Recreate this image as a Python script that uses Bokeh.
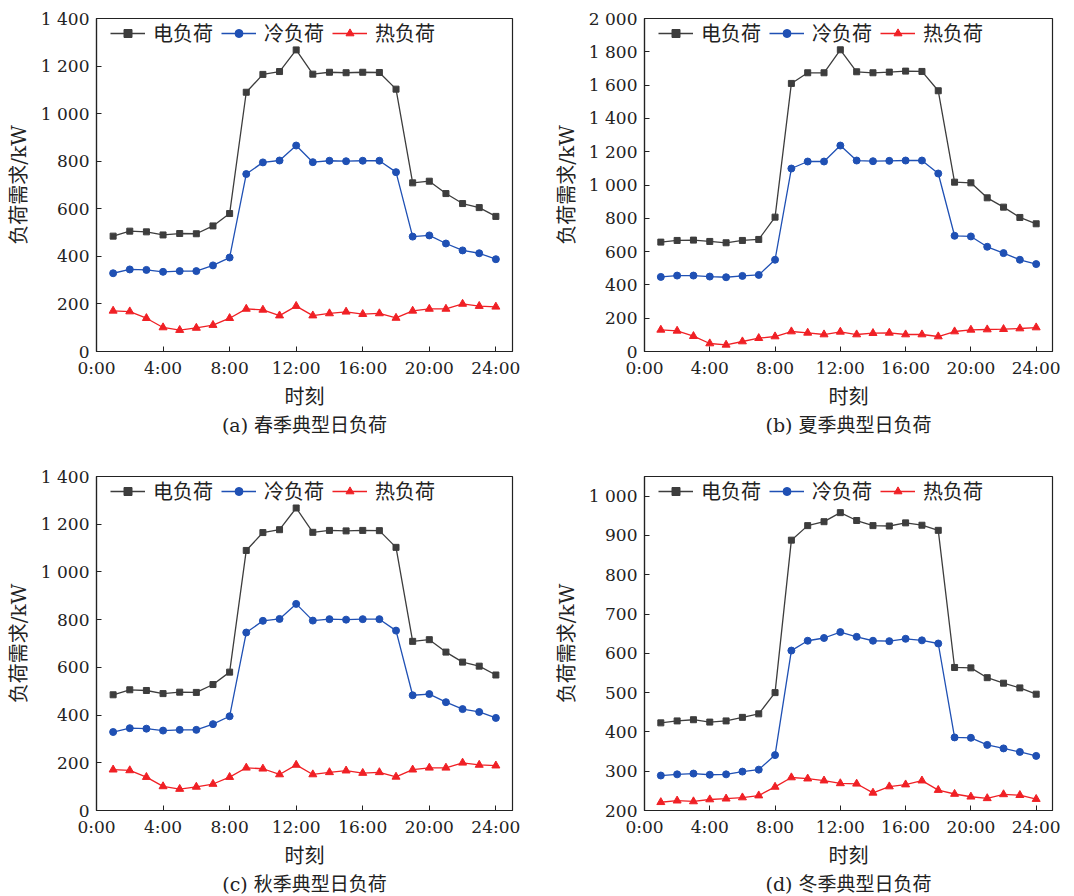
from bokeh.plotting import figure
from bokeh.layouts import column, row
from bokeh.models import FixedTicker, Range1d, Legend, LegendItem
from bokeh.embed import file_html
from bokeh.resources import INLINE

hours = list(range(1, 25))

# (a) spring
spring_elec = [485, 506, 503, 490, 496, 495, 528, 580, 1090, 1165, 1177, 1268,
               1166, 1174, 1172, 1174, 1173, 1103, 709, 716, 664, 622, 605, 568]
spring_cool = [329, 345, 343, 335, 338, 338, 362, 395, 746, 795, 803, 866,
               796, 802, 800, 802, 802, 754, 483, 488, 454, 425, 413, 388]
spring_heat = [171, 168, 140, 101, 90, 99, 111, 140, 179, 175, 151, 191,
               151, 160, 167, 157, 160, 141, 171, 179, 179, 200, 191, 188]

# (b) summer
summer_elec = [657, 667, 669, 661, 653, 667, 673, 807, 1610, 1674, 1674, 1812,
               1680, 1674, 1678, 1684, 1682, 1566, 1017, 1013, 923, 867, 805, 767]
summer_cool = [448, 456, 456, 450, 446, 454, 460, 551, 1099, 1141, 1141, 1237,
               1147, 1143, 1145, 1147, 1147, 1069, 695, 691, 629, 591, 551, 525]
summer_heat = [130, 124, 92, 48, 40, 60, 80, 90, 120, 112, 102, 118,
               102, 110, 112, 102, 102, 90, 120, 130, 132, 134, 138, 144]

# (c) autumn
autumn_elec = [485, 506, 503, 490, 496, 495, 528, 580, 1090, 1165, 1177, 1268,
               1166, 1174, 1172, 1174, 1173, 1103, 709, 716, 664, 622, 605, 568]
autumn_cool = [329, 345, 343, 335, 338, 338, 362, 395, 746, 795, 803, 866,
               796, 802, 800, 802, 802, 754, 483, 488, 454, 425, 413, 388]
autumn_heat = [171, 168, 140, 101, 90, 99, 111, 140, 179, 175, 151, 191,
               151, 160, 167, 157, 160, 141, 171, 179, 179, 200, 191, 188]

# (d) winter
winter_elec = [423, 428, 431, 425, 428, 437, 446, 500, 888, 925, 935, 958,
               938, 925, 924, 932, 926, 913, 564, 563, 538, 524, 512, 496]
winter_cool = [289, 292, 294, 291, 292, 299, 304, 341, 607, 632, 639, 654,
               642, 632, 631, 637, 633, 625, 386, 385, 367, 358, 349, 339]
winter_heat = [221, 225, 223, 228, 230, 233, 238, 260, 284, 281, 276, 269,
               268, 245, 261, 266, 276, 252, 242, 235, 231, 241, 239, 229]

series_names = ["电负荷", "冷负荷", "热负荷"]
x_ticks = [0, 4, 8, 12, 16, 20, 24]
x_tick_labels = ["0:00", "4:00", "8:00", "12:00", "16:00", "20:00", "24:00"]
x_label = "时刻"
y_label = "负荷需求/kW"
captions = ["(a) 春季典型日负荷", "(b) 夏季典型日负荷", "(c) 秋季典型日负荷", "(d) 冬季典型日负荷"]

FONT = "DejaVu Serif, Noto Sans CJK SC"
C_ELEC = "#3d3d3d"
C_COOL = "#1f50b4"
C_HEAT = "#f02025"
TXT = "#222222"


def fmt(v):
    return f"{int(v):,}".replace(",", " ")


def make_panel(caption, elec, cool, heat, y0, y1, yticks,
               bl, fw, br, bt, fh, bb):
    p = figure(frame_width=fw, frame_height=fh,
               min_border_left=bl, min_border_right=br,
               min_border_top=bt, min_border_bottom=bb,
               x_range=Range1d(0, 25), y_range=Range1d(y0, y1),
               output_backend="svg", toolbar_location=None,
               title=caption, title_location="below")
    p.title.align = "center"
    p.title.text_font = FONT
    p.title.text_font_size = "19px"
    p.title.text_font_style = "normal"
    p.title.text_color = TXT
    p.title.standoff = 0

    p.grid.visible = False
    p.outline_line_color = TXT
    p.outline_line_width = 1.2
    p.background_fill_color = "white"
    p.border_fill_color = "white"

    for ax in (p.xaxis[0], p.yaxis[0]):
        ax.axis_line_color = TXT
        ax.axis_line_width = 1.2
        ax.major_tick_in = 5
        ax.major_tick_out = 0
        ax.minor_tick_line_color = None
        ax.major_tick_line_color = TXT
        ax.major_label_text_font = FONT
        ax.major_label_text_font_size = "17px"
        ax.major_label_text_color = TXT
        ax.axis_label_text_font = FONT
        ax.axis_label_text_font_size = "20px"
        ax.axis_label_text_font_style = "normal"
        ax.axis_label_text_color = TXT

    p.xaxis.ticker = FixedTicker(ticks=x_ticks)
    p.xaxis.major_label_overrides = {t: l for t, l in zip(x_ticks, x_tick_labels)}
    p.xaxis.axis_label = x_label
    p.xaxis.major_label_standoff = 6
    p.xaxis.axis_label_standoff = 4

    p.yaxis.ticker = FixedTicker(ticks=yticks)
    p.yaxis.major_label_overrides = {t: fmt(t) for t in yticks}
    p.yaxis.axis_label = y_label
    p.yaxis.major_label_standoff = 7
    p.yaxis.axis_label_standoff = 7

    l1 = p.line(hours, elec, line_color=C_ELEC, line_width=1.3)
    m1 = p.scatter(hours, elec, marker="square", size=6, fill_color=C_ELEC, line_color=C_ELEC)
    l2 = p.line(hours, cool, line_color=C_COOL, line_width=1.3)
    m2 = p.scatter(hours, cool, marker="circle", size=7, fill_color=C_COOL, line_color=C_COOL)
    l3 = p.line(hours, heat, line_color=C_HEAT, line_width=1.3)
    m3 = p.scatter(hours, heat, marker="triangle", size=8, fill_color=C_HEAT, line_color=C_HEAT)
    items = [LegendItem(label=series_names[0], renderers=[l1, m1]),
             LegendItem(label=series_names[1], renderers=[l2, m2]),
             LegendItem(label=series_names[2], renderers=[l3, m3])]
    leg = Legend(items=items, orientation="horizontal",
                 location=(14, fh - 3 - 26),
                 glyph_width=35, glyph_height=20, label_height=20,
                 label_standoff=8, spacing=8, padding=0, margin=0,
                 border_line_color=None, background_fill_alpha=0,
                 label_text_font=FONT, label_text_font_size="20px",
                 label_text_color=TXT)
    p.add_layout(leg, "center")
    return p


ticks_a = [0, 200, 400, 600, 800, 1000, 1200, 1400]
ticks_b = [0, 200, 400, 600, 800, 1000, 1200, 1400, 1600, 1800, 2000]
ticks_d = [200, 300, 400, 500, 600, 700, 800, 900, 1000]

pa = make_panel(captions[0], spring_elec, spring_cool, spring_heat, 0, 1400, ticks_a,
                96, 416, 28, 18, 333, 109)
pb = make_panel(captions[1], summer_elec, summer_cool, summer_heat, 0, 2000, ticks_b,
                104, 408, 18, 18, 333, 109)
pc = make_panel(captions[2], autumn_elec, autumn_cool, autumn_heat, 0, 1400, ticks_a,
                96, 416, 28, 16, 334, 82)
pd = make_panel(captions[3], winter_elec, winter_cool, winter_heat, 200, 1050, ticks_d,
                104, 408, 18, 16, 334, 82)

layout = column(row(pa, pb), row(pc, pd))
open("out.html", "w").write(file_html(layout, INLINE))
